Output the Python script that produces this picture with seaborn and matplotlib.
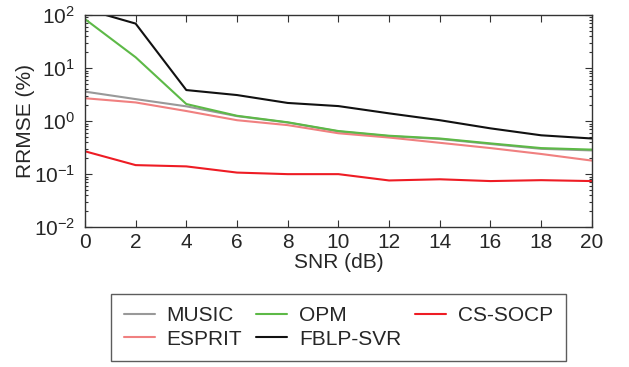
import numpy as np
import pandas as pd
import matplotlib
matplotlib.use("Agg")
import matplotlib.pyplot as plt
import seaborn as sns
from matplotlib.ticker import LogLocator, NullFormatter

# SNR grid and RRMSE (%) per method
snr = [0, 2, 4, 6, 8, 10, 12, 14, 16, 18, 20]
music = [3.6, 2.6, 1.9, 1.24, 0.94, 0.64, 0.52, 0.46, 0.37, 0.30, 0.28]
esprit = [2.7, 2.25, 1.55, 1.04, 0.84, 0.59, 0.49, 0.39, 0.31, 0.24, 0.18]
opm = [84, 16, 2.1, 1.26, 0.95, 0.65, 0.53, 0.47, 0.38, 0.31, 0.29]
fblp_svr = [130, 69, 3.85, 3.1, 2.2, 1.92, 1.4, 1.04, 0.73, 0.54, 0.47]
cs_socp = [0.27, 0.148, 0.14, 0.107, 0.1, 0.1, 0.076, 0.08, 0.074, 0.077, 0.074]

methods = ["MUSIC", "ESPRIT", "OPM", "FBLP-SVR", "CS-SOCP"]
colors = ["#999999", "#f08080", "#5db947", "#111111", "#ee1c24"]

df = pd.DataFrame({
    "SNR": snr * 5,
    "RRMSE": music + esprit + opm + fblp_svr + cs_socp,
    "method": sum([[m] * len(snr) for m in methods], []),
})

sns.set_style("ticks")
plt.rcParams["font.family"] = ["Liberation Sans", "DejaVu Sans"]
plt.rcParams["mathtext.fontset"] = "custom"
plt.rcParams["mathtext.rm"] = "Liberation Sans"
plt.rcParams["mathtext.it"] = "Liberation Sans:italic"
plt.rcParams["mathtext.bf"] = "Liberation Sans:bold"
fs = 15

fig = plt.figure(figsize=(6.29, 3.67), dpi=100)
ax = fig.add_axes([0.135, 0.381, 0.806, 0.578])

sns.lineplot(data=df, x="SNR", y="RRMSE", hue="method", hue_order=methods,
             palette=dict(zip(methods, colors)), linewidth=1.5, ax=ax)

ax.set_yscale("log")
ax.set_xlim(0, 20)
ax.set_ylim(1e-2, 1e2)
ax.set_xticks(range(0, 21, 2))
ax.yaxis.set_major_locator(LogLocator(base=10, numticks=10))
ax.yaxis.set_minor_locator(LogLocator(base=10, subs=np.arange(2, 10), numticks=10))
ax.yaxis.set_minor_formatter(NullFormatter())
ax.tick_params(which="both", direction="in", bottom=True, left=True,
               top=True, right=True, labelsize=fs, color="#333333", width=0.8)
ax.tick_params(which="major", length=5, pad=4)
ax.tick_params(which="minor", length=2.5)
ax.tick_params(axis="y", which="major", pad=7)
for s in ax.spines.values():
    s.set_visible(True)
    s.set_color("#333333")
    s.set_linewidth(1)
ax.set_xlabel("SNR (dB)", fontsize=fs, labelpad=1)
ax.set_ylabel("RRMSE (%)", fontsize=fs, labelpad=-1)

ax.legend(loc="upper center", bbox_to_anchor=(0.538, 0.199),
          bbox_transform=fig.transFigure, ncol=3, borderaxespad=0,
          frameon=True, fancybox=False, edgecolor="#333333", fontsize=fs,
          handlelength=1.5, columnspacing=0.67, labelspacing=0.2,
          borderpad=0.6, handletextpad=0.56)

fig.savefig("out.png", dpi=100)
